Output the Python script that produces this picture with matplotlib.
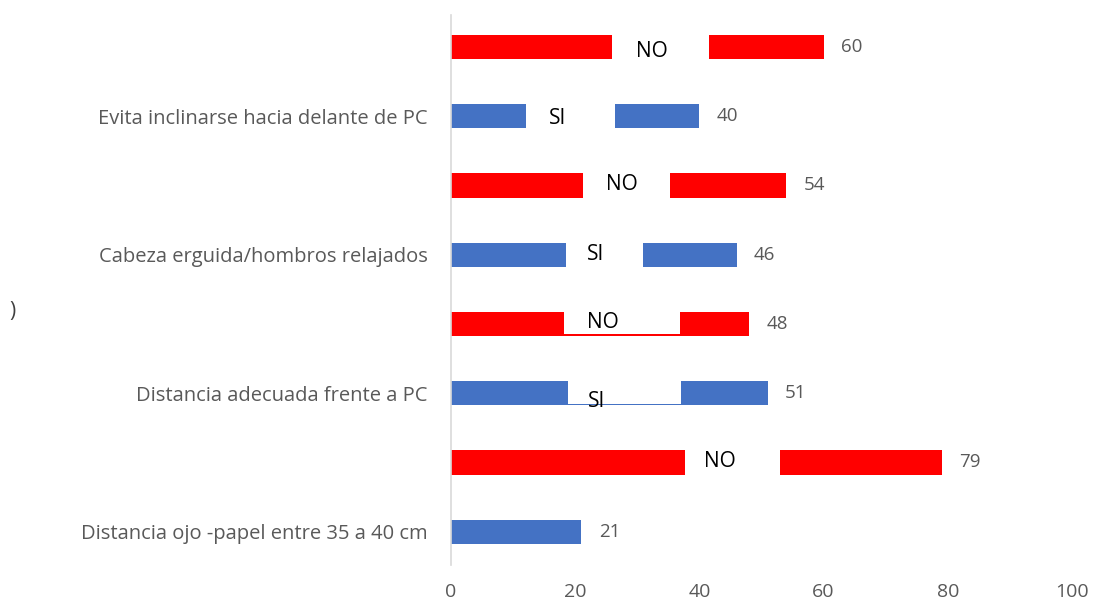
import numpy as np
import matplotlib.pyplot as plt
from matplotlib.patches import Rectangle

# rows from bottom to top
labels = ['Distancia ojo -papel entre 35 a 40 cm', '', 'Distancia adecuada frente a PC', '',
          'Cabeza erguida/hombros relajados', '', 'Evita inclinarse hacia delante de PC', '']
values = [21, 79, 51, 48, 46, 54, 40, 60]
answer = ['SI', 'NO', 'SI', 'NO', 'SI', 'NO', 'SI', 'NO']
colors = ['#4472C4' if a == 'SI' else '#FF0000' for a in answer]

# hand placed text boxes over the bars (x start, x end, text x, text dy)
box_start = [None, 37.7, 18.8, 18.2, 18.5, 21.3, 12.1, 25.9]
box_end = [None, 52.9, 37.0, 36.8, 30.9, 35.3, 26.4, 41.5]
text_x = [None, 43.3, 23.5, 24.5, 23.3, 27.5, 17.1, 32.4]
text_dy = [0, 0.02, -0.12, 0.02, 0.0, 0.02, -0.03, -0.07]
box_bottom_gap = [0, 0, 0.025, 0.025, 0, 0, 0, 0]

plt.rcParams['font.family'] = ['Open Sans', 'DejaVu Sans']

fig = plt.figure(figsize=(10.95, 6.04), dpi=100)
ax = fig.add_axes([451 / 1095, 1 - 565 / 604, (1072 - 451) / 1095, 550 / 604])

y = np.arange(len(values))
h = 0.35
ax.barh(y, values, height=h, color=colors, zorder=2)

for i, v in enumerate(values):
    ax.text(v + 2.8, y[i], str(v), va='center', ha='left', fontsize=13.5, color='#595959')
    if box_start[i] is None:
        continue
    g = box_bottom_gap[i]
    rect = Rectangle((box_start[i], y[i] - h / 2 + g), box_end[i] - box_start[i], h - g + 0.01,
                     facecolor='white', edgecolor='none', zorder=3)
    ax.add_patch(rect)
    t = ax.text(text_x[i], y[i] + text_dy[i], answer[i], ha='center', va='center',
                fontsize=15, color='black', zorder=4)
    if answer[i] == 'SI' and g > 0:
        clip = Rectangle((box_start[i], y[i] - h / 2 + g), box_end[i] - box_start[i], h,
                         transform=ax.transData, facecolor='none', edgecolor='none')
        t.set_clip_path(clip)

ax.set_xlim(0, 100)
ax.set_ylim(-0.48, 7.46)
ax.set_xticks([0, 20, 40, 60, 80, 100])
ax.set_yticks(y)
ax.set_yticklabels(labels, fontsize=14.5)

for s in ['top', 'right', 'bottom']:
    ax.spines[s].set_visible(False)
ax.spines['left'].set_color('#D9D9D9')
ax.spines['left'].set_linewidth(1.2)
ax.tick_params(axis='both', length=0, colors='#595959')
ax.tick_params(axis='x', pad=13, labelsize=14)
ax.tick_params(axis='y', pad=17)

fig.text(12 / 1095, 1 - 312 / 604, ')', fontsize=15, color='#404040', va='center', ha='center')

fig.savefig('out.png', dpi=100)
